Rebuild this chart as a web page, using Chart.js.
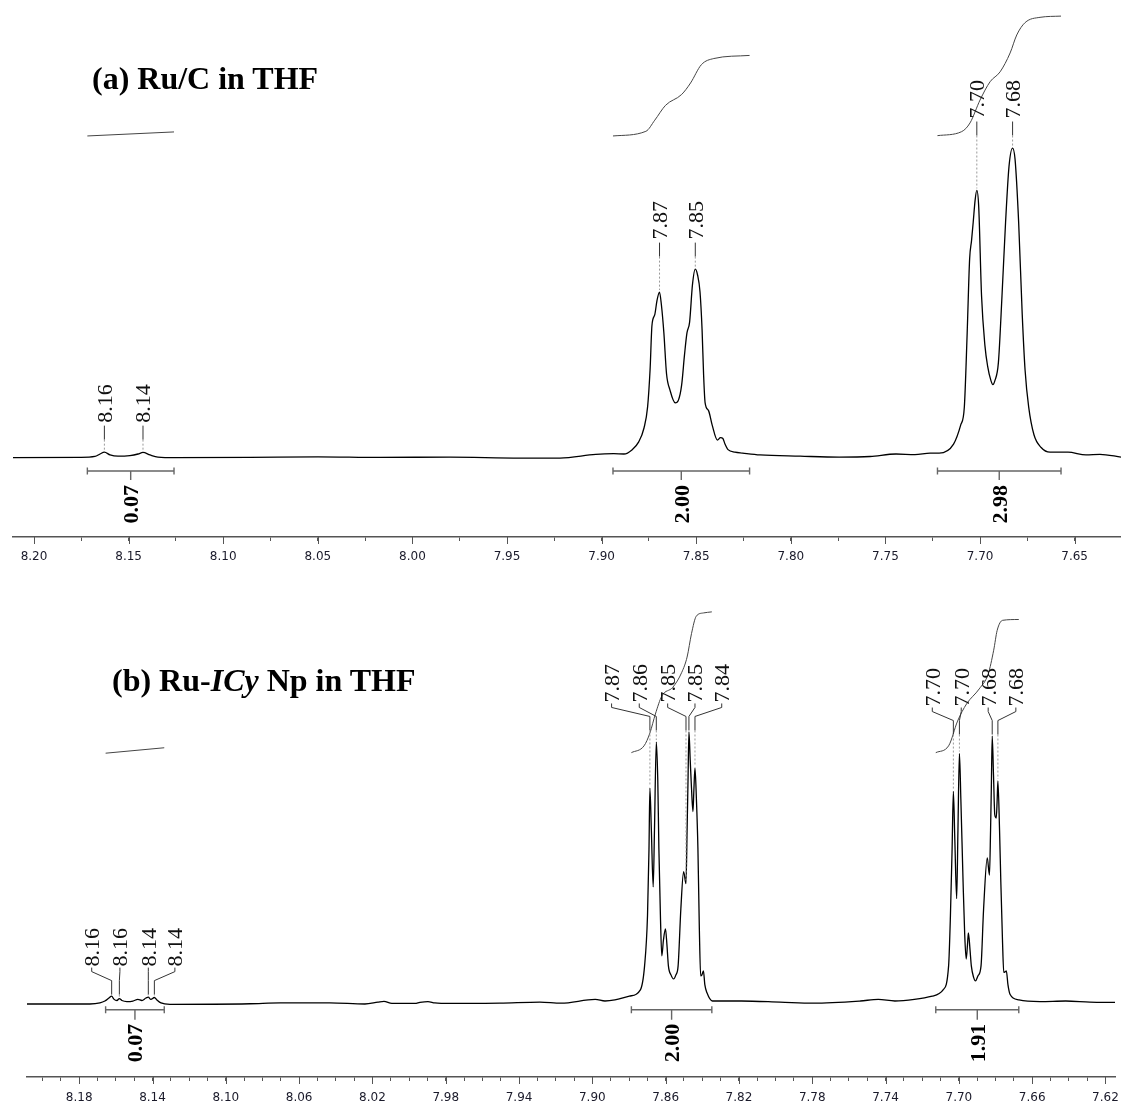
<!DOCTYPE html>
<html>
<head>
<meta charset="utf-8">
<script src="https://cdn.jsdelivr.net/npm/chart.js@4.4.1/dist/chart.umd.min.js"></script>
<style>
  body { margin: 0; background: #fff; }
  #wrap { position: relative; width: 1121px; height: 1106px; overflow: hidden; }
  canvas { position: absolute; left: 0; }
  .title { position: absolute; font: bold 32px "Liberation Serif", "Times New Roman", serif; line-height: 32px; white-space: nowrap; color: #000; }
</style>
</head>
<body>
<div id="wrap">
  <canvas id="chartA" width="1121" height="580" style="top:0"></canvas>
  <canvas id="chartB" width="1121" height="526" style="top:580px"></canvas>
  <div class="title" style="left:92px;top:62px">(a) Ru/C in THF</div>
  <div class="title" style="left:112px;top:664px">(b) Ru-<i>ICy</i> Np in THF</div>
</div>
<script>
// ---- (a) Ru/C in THF ----
// chemical shift (ppm) and relative intensity
const ppmA = [8.2111, 8.1757, 8.1678, 8.1651, 8.1628, 8.1598, 8.1556, 8.1493, 8.1450, 8.1424, 8.1387, 8.1345, 8.1255,
  8.0858, 8.0499, 8.0171, 7.9801, 7.9431, 7.9220, 7.9031, 7.8936, 7.8882, 7.8840, 7.8804, 7.8776, 7.8757, 7.8744,
  7.8734, 7.8719, 7.8707, 7.8694, 7.8684, 7.8671, 7.8657, 7.8639, 7.8611, 7.8594, 7.8577, 7.8562, 7.8549, 7.8535,
  7.8520, 7.8505, 7.8493, 7.8480, 7.8469, 7.8461, 7.8453, 7.8435, 7.8416, 7.8388, 7.8372, 7.8359, 7.8348, 7.8332,
  7.8295, 7.8255, 7.8163, 7.7951, 7.7745, 7.7581, 7.7444, 7.7344, 7.7264, 7.7216, 7.7140, 7.7102, 7.7083, 7.7068,
  7.7055, 7.7045, 7.7036, 7.7026, 7.7017, 7.7007, 7.6992, 7.6974, 7.6960, 7.6942, 7.6932, 7.6922, 7.6903, 7.6884, 7.6865,
  7.6847, 7.6828, 7.6815, 7.6796, 7.6777, 7.6762, 7.6743, 7.6715, 7.6677, 7.6630, 7.6535, 7.6440, 7.6366, 7.6255];
const intA = [0, 0.1, 0.4, 1.2, 1.8, 0.9, 0.5, 0.7, 1.2, 1.7, 0.9, 0.2, 0,
  0.1, 0.3, 0.1, 0.2, -0.1, -0.1, 1.1, 1.3, 1.2, 2.5, 5.1, 9.6, 16.4, 28.3,
  42.7, 46.2, 50.9, 53.5, 49.3, 40.3, 27.1, 21.9, 17.7, 18.6, 23.5, 33.2, 40.3, 43.8,
  55.8, 60.9, 59.0, 53.5, 41.2, 26.7, 17.7, 15.2, 10.6, 5.7, 6.5, 6.2, 4.4, 2.6,
  1.8, 1.5, 0.9, 0.5, 0.2, 0.4, 1.2, 1.0, 1.5, 1.5, 4.4, 10.6, 16.4, 40.3,
  64.2, 70.1, 76.1, 83.2, 86.3, 81.0, 52.2, 36.1, 29.6, 24.8, 23.6, 24.8, 30.7, 52.2, 76.1,
  94.0, 100, 96.4, 76.1, 46.2, 28.3, 16.4, 7.4, 3.3, 1.8, 1.8, 0.9, 1.1, 0.2];

// integral curves [ppm, height]
const integralA1 = [[8.1718, 103.9], [8.1260, 105.2]];
const integralA2 = [[7.8940, 103.9], [7.8766, 105.4], [7.8719, 109.0], [7.8662, 113.8], [7.8577, 117.3],
  [7.8530, 121.0], [7.8473, 126.9], [7.8407, 128.9], [7.8218, 129.9]];
const integralA3 = [[7.7225, 104.0], [7.7097, 105.3], [7.7053, 108.1], [7.7000, 115.5], [7.6947, 121.4],
  [7.6894, 124.6], [7.6841, 130.7], [7.6806, 136.5], [7.6762, 140.5], [7.6683, 142.2], [7.6572, 142.6]];
const rangesA = [[8.1718, 8.1260], [7.8940, 7.8218], [7.7225, 7.6572]];
const integralValuesA = ['0.07', '2.00', '2.98'];

const peakLabelsA = ['8.16', '8.14', '7.87', '7.85', '7.70', '7.68'];
const peakPpmA = [8.1628, 8.1424, 7.8694, 7.8505, 7.7017, 7.6828];
const labelPpmA = [8.1628, 8.1424, 7.8694, 7.8505, 7.7017, 7.6828];
const labelGroupA = [0, 0, 1, 1, 2, 2];
const tickLabelsA = ['8.20', '8.15', '8.10', '8.05', '8.00', '7.95', '7.90', '7.85', '7.80', '7.75', '7.70', '7.65'];

// ---- (b) Ru-ICy Np in THF ----
const ppmB = [8.2085, 8.1742, 8.1687, 8.1660, 8.1638, 8.1623, 8.1611, 8.1594, 8.1581, 8.1567, 8.1540, 8.1507, 8.1480,
  8.1458, 8.1436, 8.1423, 8.1409, 8.1390, 8.1376, 8.1354, 8.1305, 8.0868, 8.0704, 8.0432, 8.0241, 8.0170, 8.0137,
  8.0094, 7.9968, 7.9941, 7.9897, 7.9859, 7.9777, 7.9504, 7.9286, 7.9171, 7.8984, 7.8931, 7.8877, 7.8798, 7.8738,
  7.8715, 7.8699, 7.8691, 7.8686, 7.8678, 7.8668, 7.8661, 7.8651, 7.8643, 7.8637, 7.8628, 7.8621, 7.8612, 7.8601,
  7.8593, 7.8585, 7.8571, 7.8557, 7.8544, 7.8532, 7.8517, 7.8502, 7.8489, 7.8483, 7.8478, 7.8473, 7.8466, 7.8459,
  7.8451, 7.8446, 7.8440, 7.8432, 7.8424, 7.8416, 7.8409, 7.8402, 7.8394, 7.8386, 7.8375, 7.8345, 7.8187, 7.7976,
  7.7795, 7.7538, 7.7440, 7.7349, 7.7243, 7.7145, 7.7086, 7.7056, 7.7046, 7.7037, 7.7030, 7.7022, 7.7012, 7.7005,
  7.6997, 7.6989, 7.6977, 7.6968, 7.6960, 7.6953, 7.6948, 7.6939, 7.6932, 7.6920, 7.6909, 7.6896, 7.6879, 7.6865,
  7.6845, 7.6833, 7.6827, 7.6823, 7.6818, 7.6811, 7.6804, 7.6796, 7.6791, 7.6787, 7.6778, 7.6771, 7.6762, 7.6755,
  7.6748, 7.6741, 7.6732, 7.6721, 7.6672, 7.6557, 7.6417, 7.6285, 7.6148];
const intB = [0.1, 0.1, 0.5, 1.2, 2.3, 3.0, 1.9, 1.4, 2.1, 1.4, 1.0, 1.2, 1.8,
  1.4, 2.3, 2.6, 1.8, 2.5, 1.6, 0.5, 0.0, 0.2, 0.5, 0.5, 0.1, 0.8, 1.1,
  0.3, 0.3, 0.7, 1.0, 0.5, 0.3, 0.4, 0.8, 0.4, 1.8, 1.2, 1.6, 3.0, 5.3,
  14.1, 32.6, 56.7, 79.4, 64.0, 43.1, 64.0, 96.3, 82.4, 57.4, 31.0, 17.8, 23.6, 27.7,
  21.8, 14.1, 10.8, 9.3, 10.8, 14.1, 35.1, 48.7, 44.3, 64.0, 82.0, 100, 89.7, 79.4,
  70.8, 78.7, 86.8, 75.0, 57.4, 27.3, 10.4, 10.8, 12.3, 7.1, 4.3, 1.2, 1.2, 0.8,
  0.4, 1.2, 1.8, 1.2, 1.8, 3.0, 5.3, 14.1, 32.6, 56.7, 78.2, 60.3, 38.8, 64.0,
  92.1, 75.0, 44.9, 25.4, 16.6, 21.8, 26.2, 19.9, 14.1, 10.0, 8.6, 10.4, 14.1, 35.1,
  53.8, 47.4, 64.0, 78.7, 98.5, 84.2, 69.6, 68.4, 75.0, 82.0, 64.0, 44.9, 23.6, 11.7,
  11.9, 12.3, 7.1, 3.7, 1.6, 1.0, 1.2, 0.8, 0.7];

const integralB1 = [[8.1656, 92.2], [8.1336, 94.2]];
const integralB2 = [[7.8787, 92.4], [7.8718, 94.9], [7.8686, 99.6], [7.8656, 106.6], [7.8620, 113.3],
  [7.8561, 116.4], [7.8512, 121.9], [7.8483, 127.5], [7.8459, 136.1], [7.8433, 142.5], [7.8394, 143.7], [7.8348, 144.1]];
const integralB3 = [[7.7126, 92.4], [7.7056, 94.9], [7.7007, 104.0], [7.6958, 110.3], [7.6889, 115.8],
  [7.6840, 121.3], [7.6810, 130.0], [7.6791, 137.3], [7.6761, 141.0], [7.6673, 141.3]];
const rangesB = [[8.1656, 8.1336], [7.8787, 7.8348], [7.7126, 7.6673]];
const integralValuesB = ['0.07', '2.00', '1.91'];

const peakLabelsB = ['8.16', '8.16', '8.14', '8.14', '7.87', '7.86', '7.85', '7.85', '7.84', '7.70', '7.70', '7.68', '7.68'];
const peakPpmB = [8.1623, 8.1581, 8.1423, 8.1390, 7.8686, 7.8651, 7.8489, 7.8473, 7.8440, 7.7030, 7.6997, 7.6818, 7.6787];
const labelPpmB = [8.1732, 8.1578, 8.1423, 8.1278, 7.8895, 7.8744, 7.8589, 7.8440, 7.8294, 7.7145, 7.6987, 7.6840, 7.6689];
const labelGroupB = [0, 0, 0, 0, 1, 1, 1, 1, 1, 2, 2, 2, 2];
const tickLabelsB = ['8.18', '8.14', '8.10', '8.06', '8.02', '7.98', '7.94', '7.90', '7.86', '7.82', '7.78', '7.74', '7.70', '7.66', '7.62'];

function nearestHeight(ppm, ints, p) {
  let best = 0, d = Infinity;
  ppm.forEach((q, i) => {
    if (Math.abs(q - p) < d) { d = Math.abs(q - p); best = ints[i]; }
  });
  return best;
}

function axisTicks(lo, hi, step) {
  const t = [];
  for (let k = Math.ceil(lo / step - 1e-9); k * step <= hi + 1e-9; k++) t.push(+(k * step).toFixed(4));
  return t;
}

function isLabelled(v, labels) {
  const s = v.toFixed(2);
  return labels.includes(s) && Math.abs(v - parseFloat(s)) < 1e-6;
}

// labels, leader lines, integral brackets and values
const nmrMarks = {
  id: 'nmrMarks',
  afterDatasetsDraw(chart, args, o) {
    const { ctx } = chart;
    const x = chart.scales.x, y = chart.scales.y;
    const base = y.getPixelForValue(0);
    ctx.save();

    // integral brackets
    o.ranges.forEach((r, i) => {
      const x1 = x.getPixelForValue(r[0]), x2 = x.getPixelForValue(r[1]);
      const by = base + o.bracketGap, xm = (x1 + x2) / 2;
      ctx.strokeStyle = '#666';
      ctx.lineWidth = 1.4;
      ctx.beginPath();
      ctx.moveTo(x1, by); ctx.lineTo(x2, by);
      ctx.moveTo(x1, by - 3.5); ctx.lineTo(x1, by + 3.5);
      ctx.moveTo(x2, by - 3.5); ctx.lineTo(x2, by + 3.5);
      ctx.moveTo(xm, by); ctx.lineTo(xm, by + o.bracketTick);
      ctx.stroke();
      ctx.save();
      ctx.translate(xm, by + o.bracketTick + o.valueGap);
      ctx.rotate(-Math.PI / 2);
      ctx.font = 'bold 22px "Liberation Serif"';
      ctx.fillStyle = '#000';
      ctx.textAlign = 'right';
      ctx.textBaseline = 'alphabetic';
      ctx.fillText(o.values[i], 0, 7.5);
      ctx.restore();
    });

    // peak labels
    const tops = {};
    const peaks = o.peakPpm.map((p, i) => {
      const py = y.getPixelForValue(nearestHeight(o.ppm, o.ints, p));
      const g = o.groups[i];
      tops[g] = Math.min(tops[g] ?? Infinity, py);
      return py;
    });
    o.labels.forEach((t, i) => {
      const lx = x.getPixelForValue(o.labelPpm[i]);
      const px = x.getPixelForValue(o.peakPpm[i]);
      const textBottom = tops[o.groups[i]] - o.lift;
      ctx.save();
      ctx.translate(lx, textBottom);
      ctx.rotate(-Math.PI / 2);
      ctx.font = '22px "Liberation Serif"';
      ctx.fillStyle = '#111';
      ctx.textAlign = 'left';
      ctx.textBaseline = 'alphabetic';
      ctx.fillText(t, 0, 7.5);
      ctx.restore();

      const y0 = textBottom + o.gap, y1 = y0 + o.stem, y2 = y1 + o.diag, y3 = y2 + o.drop;
      ctx.strokeStyle = '#333';
      ctx.lineWidth = 1;
      ctx.setLineDash([]);
      ctx.beginPath();
      ctx.moveTo(lx, y0); ctx.lineTo(lx, y1); ctx.lineTo(px, y2); ctx.lineTo(px, y3);
      ctx.stroke();
      if (peaks[i] - 2 > y3) {
        ctx.strokeStyle = '#999';
        ctx.setLineDash([2, 2]);
        ctx.beginPath();
        ctx.moveTo(px, y3); ctx.lineTo(px, peaks[i] - 2);
        ctx.stroke();
        ctx.setLineDash([]);
      }
    });

    // labelled ticks are drawn longer than the minor ones
    ctx.strokeStyle = '#555';
    ctx.lineWidth = 1;
    ctx.beginPath();
    x.ticks.forEach(t => {
      if (isLabelled(t.value, o.tickLabels)) {
        const tx = Math.round(x.getPixelForValue(t.value)) + 0.5;
        ctx.moveTo(tx, x.top);
        ctx.lineTo(tx, x.top + 7);
      }
    });
    ctx.stroke();
    ctx.restore();
  }
};

function makePanel(id, p) {
  const toXY = pts => pts.map(q => ({ x: q[0], y: q[1] }));
  const spectrum = p.ppm.map((v, i) => ({ x: v, y: p.ints[i] }));
  const integralSets = p.integrals.map(c => ({
    data: toXY(c), borderColor: '#444', borderWidth: 1, pointRadius: 0, cubicInterpolationMode: 'monotone'
  }));
  new Chart(document.getElementById(id), {
    type: 'line',
    data: {
      datasets: [
        ...integralSets,
        { data: spectrum, borderColor: '#000', borderWidth: 1.3, pointRadius: 0, cubicInterpolationMode: 'monotone' }
      ]
    },
    options: {
      responsive: false,
      animation: false,
      events: [],
      layout: { padding: { left: p.padLeft, right: p.padRight, top: 0, bottom: 0 } },
      plugins: {
        legend: { display: false },
        tooltip: { enabled: false },
        nmrMarks: {
          ppm: p.ppm, ints: p.ints, ranges: p.ranges, values: p.values,
          labels: p.labels, peakPpm: p.peakPpm, labelPpm: p.labelPpm, groups: p.groups,
          tickLabels: p.tickLabels,
          bracketGap: p.bracketGap, bracketTick: p.bracketTick, valueGap: p.valueGap,
          lift: 29.5, gap: p.gap, stem: p.stem, diag: p.diag, drop: p.drop
        }
      },
      scales: {
        x: {
          type: 'linear',
          reverse: true,
          min: p.xMin,
          max: p.xMax,
          afterBuildTicks: s => { s.ticks = axisTicks(p.xMin, p.xMax, p.step).map(v => ({ value: v })); },
          afterFit: s => { s.height = p.axisHeight; },
          border: { display: true, color: '#555', width: 1.5 },
          grid: { drawOnChartArea: false, drawTicks: true, tickLength: 4, tickColor: '#555', lineWidth: 1 },
          ticks: {
            autoSkip: false,
            maxRotation: 0,
            padding: p.tickPad,
            color: '#1a1a2a',
            font: { family: 'DejaVu Sans', size: 12 },
            callback: v => isLabelled(v, p.tickLabels) ? v.toFixed(2) : ''
          }
        },
        y: { display: false, min: p.yMin, max: p.yMax }
      }
    },
    plugins: [nmrMarks]
  });
}

makePanel('chartA', {
  ppm: ppmA, ints: intA, integrals: [integralA1, integralA2, integralA3],
  ranges: rangesA, values: integralValuesA,
  labels: peakLabelsA, peakPpm: peakPpmA, labelPpm: labelPpmA, groups: labelGroupA,
  tickLabels: tickLabelsA, step: 0.025,
  xMin: 7.6255, xMax: 8.2111, yMin: -25.6, yMax: 147.8,
  padLeft: 13, padRight: 0, axisHeight: 43, tickPad: 8.5,
  bracketGap: 13.3, bracketTick: 9, valueGap: 5,
  gap: 3, stem: 0, diag: 0, drop: 14
});

makePanel('chartB', {
  ppm: ppmB, ints: intB, integrals: [integralB1, integralB2, integralB3],
  ranges: rangesB, values: integralValuesB,
  labels: peakLabelsB, peakPpm: peakPpmB, labelPpm: labelPpmB, groups: labelGroupB,
  tickLabels: tickLabelsB, step: 0.01,
  xMin: 7.6148, xMax: 8.2085, yMin: -26.7, yMax: 155.8,
  padLeft: 27, padRight: 6, axisHeight: 29, tickPad: 9.8,
  bracketGap: 5.5, bracketTick: 10, valueGap: 4,
  gap: 1, stem: 4, diag: 9, drop: 14
});
</script>
</body>
</html>
